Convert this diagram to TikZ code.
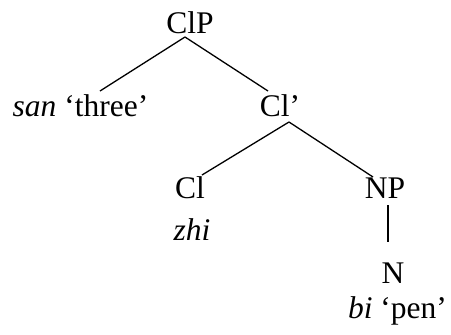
\documentclass[tikz,border=0pt]{standalone}
\usepackage{fontspec}
\setmainfont{Liberation Serif}
\usepackage{tikz}
\usetikzlibrary{positioning}

\begin{document}
\begin{tikzpicture}[
        x=1pt, y=-1pt,
        word/.style={anchor=base, inner sep=0pt, font=\fontsize{31.5}{37}\selectfont},
        branch/.style={line width=1.3pt}
    ]
        \useasboundingbox (0,0) rectangle (451,335);
        % tree labels, placed by baseline
        \node[word] (ClP) at (190,33) {ClP};
        \node[word] (san) at (80.5,116) {\textit{san} ‘three’};
        \node[word] (Clbar) at (280,116) {Cl’};
        \node[word] (Cl) at (190,198) {Cl};
        \node[word] (zhi) at (192,240) {\textit{zhi}};
        \node[word] (NP) at (385,198) {NP};
        \node[word] (N) at (393,283) {N};
        \node[word] (bi) at (397.5,318) {\textit{bi} ‘pen’};
        % branches, hung off the baselines
        \draw[branch] ([xshift=-5pt, yshift=-4pt]ClP.base) -- ([xshift=19.5pt, yshift=25pt]san.base);
        \draw[branch] ([xshift=-5pt, yshift=-4pt]ClP.base) -- ([xshift=-12pt, yshift=25pt]Clbar.base);
        \draw[branch] ([xshift=9pt, yshift=-6pt]Clbar.base) -- ([xshift=12pt, yshift=23pt]Cl.base);
        \draw[branch] ([xshift=9pt, yshift=-6pt]Clbar.base) -- ([xshift=-12pt, yshift=21pt]NP.base);
        \draw[branch] ([xshift=3pt, yshift=-7pt]NP.base) -- ([xshift=-5pt, yshift=41pt]N.base);
    \end{tikzpicture}
\end{document}
